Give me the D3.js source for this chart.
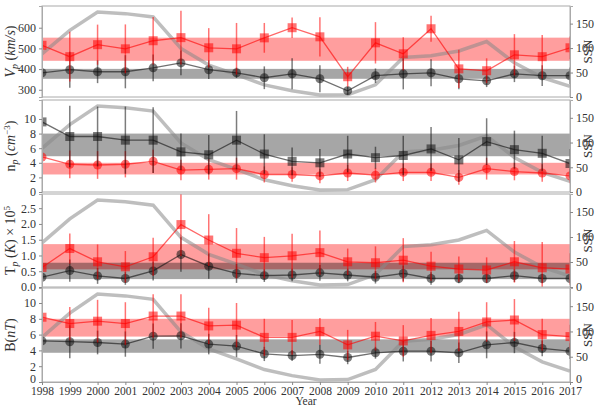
<!DOCTYPE html>
<html>
<head>
<meta charset="utf-8">
<script src="https://cdn.jsdelivr.net/npm/d3@7"></script>
<style>
  body { margin: 0; background: #fff; }
  svg text { font-family: "Liberation Serif", "DejaVu Serif", serif; fill: #333; }
</style>
</head>
<body>
<svg width="600" height="405"></svg>
<script>
const years = [1998, 1999, 2000, 2001, 2002, 2003, 2004, 2005, 2006, 2007, 2008, 2009, 2010, 2011, 2012, 2013, 2014, 2015, 2016, 2017];
const ssn = [88.3, 136.3, 173.9, 170.4, 163.6, 99.3, 65.3, 45.8, 24.7, 12.6, 4.2, 4.8, 24.9, 80.8, 84.5, 94.0, 113.3, 69.8, 39.8, 21.7];

// proton speed
const vpRed = [515, 460, 518, 498, 537, 552, 503, 498, 551, 600, 556, 363, 527, 474, 595, 401, 392, 469, 460, 503];
const vpRedErr = [90, 120, 97, 118, 115, 130, 95, 125, 72, 50, 95, 48, 100, 80, 63, 92, 60, 100, 105, 55];
const vpBlack = [382, 397, 387, 387, 406, 430, 397, 382, 358, 377, 353, 295, 368, 377, 382, 353, 343, 377, 368, 368];
const vpBlackErr = [60, 87, 55, 80, 65, 60, 45, 25, 55, 75, 65, 20, 35, 75, 65, 50, 30, 40, 50, 40];
const vpRedBand = [440, 552];
const vpBlackBand = [353, 401];

// proton density
const npRed = [4.8, 3.8, 3.7, 3.8, 4.2, 3.0, 3.1, 3.2, 2.4, 2.4, 2.2, 2.6, 2.3, 2.7, 2.7, 2.0, 3.2, 2.8, 2.6, 2.2];
const npRedErr = [1.5, 1.9, 1.9, 1.8, 1.6, 1.4, 1.4, 1.5, 1.1, 1.0, 1.0, 1.1, 1.0, 1.2, 1.2, 1.0, 1.5, 1.2, 1.2, 1.0];
const npBlack = [9.6, 7.6, 7.6, 7.1, 7.1, 5.5, 5.1, 7.1, 5.2, 4.2, 4.0, 5.2, 4.7, 5.0, 5.9, 4.4, 6.9, 5.8, 5.3, 3.9];
const npBlackErr = [3.0, 4.2, 4.1, 4.6, 4.5, 2.5, 2.7, 4.0, 2.7, 1.9, 1.9, 2.5, 1.5, 2.7, 3.0, 3.0, 3.2, 2.6, 2.4, 2.0];
const npRedBand = [2.4, 4.0];
const npBlackBand = [4.9, 8.0];

// proton temperature (x 10^5 K)
const tpRed = [0.62, 1.22, 0.80, 0.64, 0.96, 1.98, 1.49, 1.07, 0.93, 0.99, 1.09, 0.80, 0.77, 0.85, 0.66, 0.57, 0.54, 0.80, 0.61, 0.57];
const tpRedErr = [0.3, 0.48, 0.55, 0.5, 0.6, 1.0, 0.82, 0.8, 0.66, 0.7, 0.7, 0.42, 0.52, 0.7, 0.46, 0.4, 0.4, 0.66, 0.82, 0.5];
const tpBlack = [0.31, 0.52, 0.35, 0.27, 0.51, 1.03, 0.66, 0.43, 0.36, 0.38, 0.45, 0.38, 0.31, 0.43, 0.27, 0.27, 0.27, 0.36, 0.27, 0.27];
const tpBlackErr = [0.2, 0.35, 0.25, 0.2, 0.3, 0.55, 0.4, 0.3, 0.2, 0.2, 0.25, 0.2, 0.2, 0.25, 0.2, 0.15, 0.15, 0.2, 0.15, 0.15];
const tpRedBand = [0.56, 1.36];
const tpBlackBand = [0.25, 0.77];

// magnetic field
const bRed = [8.2, 7.4, 7.7, 7.4, 8.35, 8.35, 7.1, 7.2, 5.65, 5.65, 6.4, 4.7, 5.8, 5.2, 5.9, 6.4, 7.6, 7.85, 6.0, 5.75];
const bRedErr = [2.8, 2.1, 2.7, 2.7, 2.75, 2.75, 2.3, 2.8, 2.35, 2.2, 1.7, 1.9, 1.8, 2.0, 2.2, 2.5, 2.5, 2.65, 2.0, 1.5];
const bBlack = [5.2, 5.1, 5.0, 4.8, 5.8, 5.85, 4.8, 4.55, 3.55, 3.35, 3.5, 3.1, 3.7, 3.9, 3.9, 3.7, 4.7, 5.0, 4.25, 3.9];
const bBlackErr = [1.5, 2.1, 1.5, 1.6, 1.6, 1.6, 1.3, 1.4, 0.9, 0.7, 1.2, 0.85, 0.75, 1.3, 1.3, 1.3, 1.7, 1.35, 1.0, 1.0];
const bRedBand = [5.75, 8.0];
const bBlackBand = [3.7, 5.4];

const ssnTicks = [0, 50, 100, 150];

const svg = d3.select('svg');
const left = 42, right = 570;

const x = d3.scaleLinear().domain([1998, 2017]).range([left, right]);

const panels = [
    { top: 6, bottom: 97, domain: [265, 705], ticks: [300, 400, 500, 600], fmt: d3.format('d'),
      red: vpRed, redErr: vpRedErr, black: vpBlack, blackErr: vpBlackErr,
      redBand: vpRedBand, blackBand: vpBlackBand, redSquare: true, label: 'vp' },
    { top: 100, bottom: 192, domain: [0, 12.6], ticks: [0, 2, 4, 6, 8, 10], fmt: d3.format('d'),
      red: npRed, redErr: npRedErr, black: npBlack, blackErr: npBlackErr,
      redBand: npRedBand, blackBand: npBlackBand, redSquare: false, label: 'np' },
    { top: 194, bottom: 287, domain: [0, 2.95], ticks: [0, 0.5, 1, 1.5, 2, 2.5], fmt: d3.format('.1f'),
      red: tpRed, redErr: tpRedErr, black: tpBlack, blackErr: tpBlackErr,
      redBand: tpRedBand, blackBand: tpBlackBand, redSquare: true, label: 'tp' },
    { top: 288, bottom: 382, domain: [0, 11.9], ticks: [0, 2, 4, 6, 8, 10], fmt: d3.format('d'),
      red: bRed, redErr: bRedErr, black: bBlack, blackErr: bBlackErr,
      redBand: bRedBand, blackBand: bBlackBand, redSquare: true, label: 'b' }
];

const drawSeries = (g, y, vals, errs, color, square) => {
    const pts = years.map((yr, i) => ({ yr, v: vals[i], e: errs[i] }));
    g.selectAll(null).data(pts).enter().append('line')
        .attr('x1', d => x(d.yr)).attr('x2', d => x(d.yr))
        .attr('y1', d => y(d.v - d.e)).attr('y2', d => y(d.v + d.e))
        .attr('stroke', color).attr('stroke-opacity', 0.55).attr('stroke-width', 1.5);
    g.append('path').datum(pts)
        .attr('d', d3.line().x(d => x(d.yr)).y(d => y(d.v)))
        .attr('fill', 'none').attr('stroke', color).attr('stroke-opacity', 0.6).attr('stroke-width', 1.3);
    if (square) {
        g.selectAll(null).data(pts).enter().append('rect')
            .attr('x', d => x(d.yr) - 4.5).attr('y', d => y(d.v) - 4.5)
            .attr('width', 9).attr('height', 9)
            .attr('fill', color).attr('fill-opacity', 0.55);
    } else {
        g.selectAll(null).data(pts).enter().append('circle')
            .attr('cx', d => x(d.yr)).attr('cy', d => y(d.v)).attr('r', 4.5)
            .attr('fill', color).attr('fill-opacity', 0.55);
    }
};

panels.forEach((p, k) => {
    const y = d3.scaleLinear().domain(p.domain).range([p.bottom, p.top]);
    const ys = d3.scaleLinear().domain([0, 186]).range([p.bottom, p.top]);
    const g = svg.append('g');
    const clipId = 'clip' + k;
    svg.append('clipPath').attr('id', clipId).append('rect')
        .attr('x', left).attr('y', p.top).attr('width', right - left).attr('height', p.bottom - p.top);
    const inner = g.append('g').attr('clip-path', 'url(#' + clipId + ')');

    // bands
    inner.append('rect').attr('x', left).attr('width', right - left)
        .attr('y', y(p.redBand[1])).attr('height', y(p.redBand[0]) - y(p.redBand[1]))
        .attr('fill', '#ff0000').attr('fill-opacity', 0.38);
    inner.append('rect').attr('x', left).attr('width', right - left)
        .attr('y', y(p.blackBand[1])).attr('height', y(p.blackBand[0]) - y(p.blackBand[1]))
        .attr('fill', '#000').attr('fill-opacity', 0.35);

    // sunspot number
    inner.append('path').datum(years.map((yr, i) => [yr, ssn[i]]))
        .attr('d', d3.line().x(d => x(d[0])).y(d => ys(d[1])))
        .attr('fill', 'none').attr('stroke', '#888').attr('stroke-opacity', 0.55)
        .attr('stroke-width', 3.5);

    if (p.redSquare) {
        drawSeries(inner, y, p.black, p.blackErr, '#111', false);
        drawSeries(inner, y, p.red, p.redErr, '#ff0000', true);
    } else {
        drawSeries(inner, y, p.red, p.redErr, '#ff0000', false);
        drawSeries(inner, y, p.black, p.blackErr, '#111', true);
    }

    // frame
    g.append('rect').attr('x', left).attr('y', p.top)
        .attr('width', right - left).attr('height', p.bottom - p.top)
        .attr('fill', 'none').attr('stroke', '#aaa').attr('stroke-width', 1);

    const yAxis = g.append('g').attr('transform', 'translate(' + left + ',0)')
        .call(d3.axisLeft(y).tickValues(p.ticks).tickFormat(p.fmt).tickSize(3).tickPadding(3));
    const sAxis = g.append('g').attr('transform', 'translate(' + right + ',0)')
        .call(d3.axisRight(ys).tickValues(ssnTicks).tickSize(3).tickPadding(3));
    [yAxis, sAxis].forEach(a => {
        a.select('.domain').attr('stroke', '#aaa');
        a.selectAll('.tick line').attr('stroke', '#888');
        a.selectAll('.tick text').style('font-size', '12px').style('fill', '#333')
            .style('font-family', '"Liberation Serif", serif');
        // last panel: lift the zero label clear of the year labels
        if (k === panels.length - 1) {
            a.selectAll('.tick text').filter(d => d === 0).attr('dy', '0.05em');
        }
    });

    const mid = (p.top + p.bottom) / 2;
    const lab = g.append('text')
        .attr('transform', 'translate(15,' + mid + ') rotate(-90)')
        .attr('text-anchor', 'middle').style('font-size', '14px');
    if (p.label === 'vp') {
        lab.append('tspan').style('font-style', 'italic').text('V');
        lab.append('tspan').style('font-style', 'italic').style('font-size', '10px').attr('dy', 3).text('p');
        lab.append('tspan').attr('dy', -3).text(' (');
        lab.append('tspan').style('font-style', 'italic').text('km/s');
        lab.append('tspan').text(')');
    } else if (p.label === 'np') {
        lab.append('tspan').text('n');
        lab.append('tspan').style('font-style', 'italic').style('font-size', '10px').attr('dy', 3).text('p');
        lab.append('tspan').attr('dy', -3).text(' (');
        lab.append('tspan').style('font-style', 'italic').text('cm');
        lab.append('tspan').style('font-size', '9px').attr('dy', -5).text('−3');
        lab.append('tspan').attr('dy', 5).text(')');
    } else if (p.label === 'tp') {
        lab.append('tspan').text('T');
        lab.append('tspan').style('font-style', 'italic').style('font-size', '10px').attr('dy', 3).text('p');
        lab.append('tspan').attr('dy', -3).text(' (');
        lab.append('tspan').style('font-style', 'italic').text('K');
        lab.append('tspan').text(') × 10');
        lab.append('tspan').style('font-size', '9px').attr('dy', -5).text('5');
    } else {
        lab.append('tspan').text('B(');
        lab.append('tspan').style('font-style', 'italic').text('nT');
        lab.append('tspan').text(')');
    }

    g.append('text')
        .attr('transform', 'translate(592,' + mid + ') rotate(-90)')
        .attr('text-anchor', 'middle').style('font-size', '13px').text('SSN');
});

// x axis at bottom
const xAxis = svg.append('g').attr('transform', 'translate(0,382)')
    .call(d3.axisBottom(x).tickValues(years).tickFormat(d3.format('d')).tickSize(3).tickPadding(2));
xAxis.select('.domain').attr('stroke', '#aaa');
xAxis.selectAll('.tick line').attr('stroke', '#888');
xAxis.selectAll('.tick text').style('font-size', '11.5px').style('fill', '#333')
    .style('font-family', '"Liberation Serif", serif');

svg.append('text').attr('x', (left + right) / 2).attr('y', 404.5)
    .attr('text-anchor', 'middle').style('font-size', '11.5px').text('Year');
</script>
</body>
</html>
